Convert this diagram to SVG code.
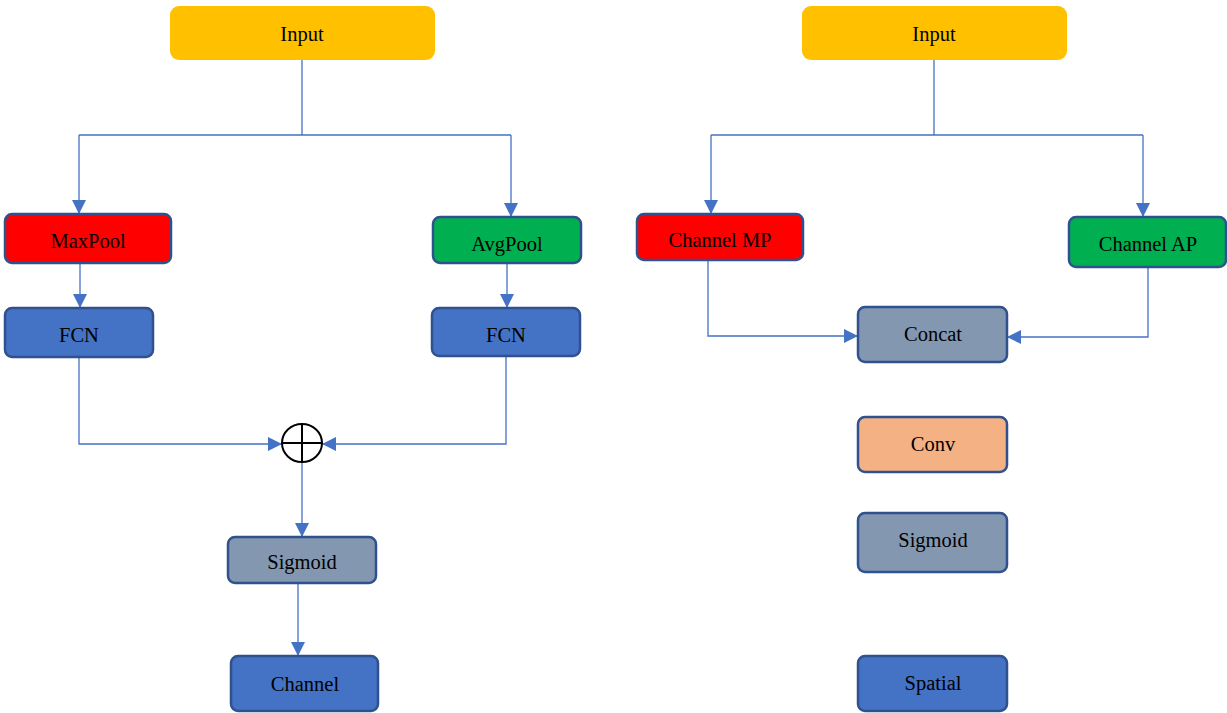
<svg xmlns="http://www.w3.org/2000/svg" width="1227" height="713" viewBox="0 0 1227 713">
<style>
.n{stroke:#2F528F;stroke-width:2.5}
.in{fill:#FFC000}
.red{fill:#FF0000}
.grn{fill:#00B050}
.blu{fill:#4472C4}
.gry{fill:#8497B0}
.org{fill:#F4B183}
text{font-family:"Liberation Serif","Times New Roman",serif;font-size:20.5px;fill:#000;text-anchor:middle}
.c{fill:none;stroke:#4472C4;stroke-width:1.3}
</style>
<defs>
<marker id="a" markerUnits="userSpaceOnUse" markerWidth="14" markerHeight="14" refX="14" refY="7" orient="auto">
<path d="M0,0 L14,7 L0,14 Z" fill="#4472C4"/>
</marker>
</defs>
<rect width="1227" height="713" fill="#fff"/>
<g id="connectors">
<path class="c" d="M302,60 V135 M79,135 H511"/>
<path class="c" d="M79,135 V214" marker-end="url(#a)"/>
<path class="c" d="M511,135 V217" marker-end="url(#a)"/>
<path class="c" d="M80,263 V308" marker-end="url(#a)"/>
<path class="c" d="M507,263 V308" marker-end="url(#a)"/>
<path class="c" d="M79,357 V444 H282" marker-end="url(#a)"/>
<path class="c" d="M506,356 V444 H322" marker-end="url(#a)"/>
<path class="c" d="M302,462 V537" marker-end="url(#a)"/>
<path class="c" d="M298,584 V656" marker-end="url(#a)"/>
<path class="c" d="M934,60 V135 M711,135 H1143"/>
<path class="c" d="M711,135 V214" marker-end="url(#a)"/>
<path class="c" d="M1143,135 V217" marker-end="url(#a)"/>
<path class="c" d="M708,253 V336 H858" marker-end="url(#a)"/>
<path class="c" d="M1148,257 V337 H1007" marker-end="url(#a)"/>
</g>
<g id="input-left"><rect class="in" x="170" y="6" width="265" height="54" rx="9"/><text x="302" y="41">Input</text></g>
<g id="maxpool"><rect class="n red" x="5" y="214" width="166" height="49" rx="7"/><text x="88" y="248">MaxPool</text></g>
<g id="avgpool"><rect class="n grn" x="433" y="217" width="148" height="46" rx="7"/><text x="507" y="251">AvgPool</text></g>
<g id="fcn-left"><rect class="n blu" x="5" y="308" width="148" height="49" rx="7"/><text x="79" y="342">FCN</text></g>
<g id="fcn-right"><rect class="n blu" x="432" y="308" width="148" height="48" rx="7"/><text x="506" y="342">FCN</text></g>
<g id="sum"><ellipse cx="302" cy="443" rx="20" ry="19" fill="#fff" stroke="#000" stroke-width="2"/><path d="M282,443 H322 M302,424 V462" stroke="#000" stroke-width="2"/></g>
<g id="sigmoid-left"><rect class="n gry" x="228" y="537" width="148" height="46" rx="7"/><text x="302" y="569">Sigmoid</text></g>
<g id="channel"><rect class="n blu" x="231" y="656" width="147" height="55" rx="7"/><text x="305" y="691">Channel</text></g>
<g id="input-right"><rect class="in" x="802" y="6" width="265" height="54" rx="9"/><text x="934" y="41">Input</text></g>
<g id="channel-mp"><rect class="n red" x="637" y="214" width="166" height="46" rx="7"/><text x="720" y="247">Channel MP</text></g>
<g id="channel-ap"><rect class="n grn" x="1069" y="217" width="157" height="50" rx="7"/><text x="1148" y="251">Channel AP</text></g>
<g id="concat"><rect class="n gry" x="858" y="307" width="149" height="55" rx="7"/><text x="933" y="341">Concat</text></g>
<g id="conv"><rect class="n org" x="858" y="417" width="149" height="55" rx="7"/><text x="933" y="451">Conv</text></g>
<g id="sigmoid-right"><rect class="n gry" x="858" y="513" width="149" height="59" rx="7"/><text x="933" y="547">Sigmoid</text></g>
<g id="spatial"><rect class="n blu" x="858" y="656" width="149" height="55" rx="7"/><text x="933" y="690">Spatial</text></g>
</svg>
